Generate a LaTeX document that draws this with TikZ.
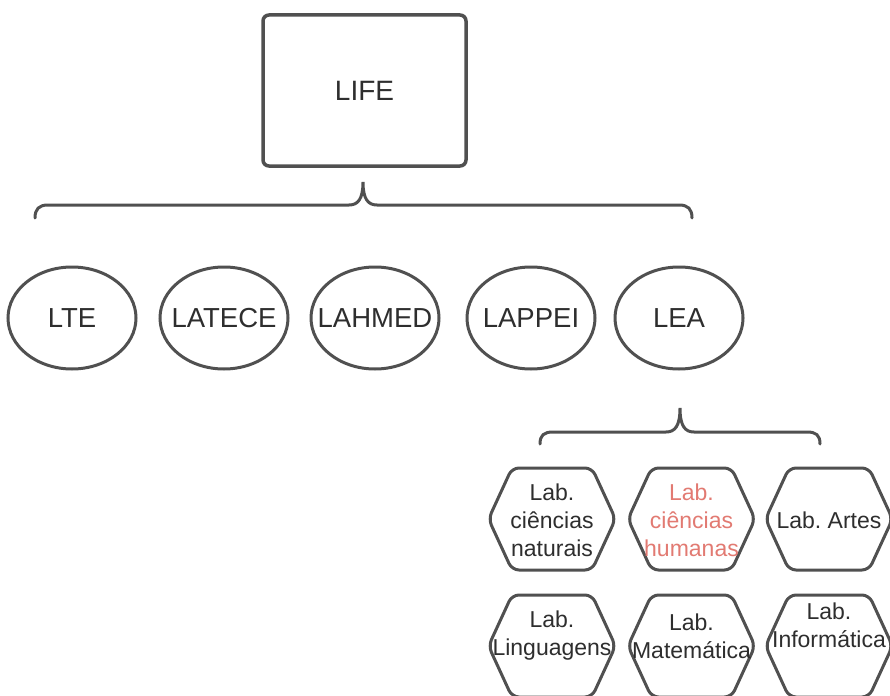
\documentclass[tikz,border=0pt]{standalone}
\usepackage{fontspec}
\setmainfont{Liberation Sans}
\usetikzlibrary{shapes.geometric}
\definecolor{ink}{HTML}{2E2E2E}
\definecolor{edge}{HTML}{505050}
\definecolor{salmon}{HTML}{E27A72}
\begin{document}
\begin{tikzpicture}[x=1pt,y=-1pt,
  topbox/.style={draw=edge,line width=3.5pt,rounded corners=6pt,minimum width=203pt,minimum height=151pt,inner sep=0pt,text=ink,font=\fontsize{28}{30}\selectfont},
  ovalbox/.style={draw=edge,line width=3pt,shape=ellipse,minimum width=128pt,minimum height=102pt,inner sep=0pt},
  ovaltxt/.style={text=ink,font=\fontsize{27.5}{30}\selectfont,inner sep=0pt},
  hextxt/.style={text=ink,font=\fontsize{23}{28}\selectfont,align=center,inner sep=0pt},
  hexline/.style={draw=edge,line width=3pt,rounded corners=7pt},
  bracepath/.style={draw=edge,line width=3pt,line cap=round}]
\useasboundingbox (0,0) rectangle (890,695);
\fill[white] (0,0) rectangle (890,695);

% top box
\node[topbox] (life) at (364.5,90.5) {LIFE};

% first brace
\coordinate (b1l) at (35,218);
\coordinate (b1t) at (363,182);
\coordinate (b1r) at (692,218);
\draw[bracepath] (b1l) .. controls (35,209) and (39,205) .. (48,205) -- (349,205)
  .. controls (358,205) and (363,199) .. (b1t)
  .. controls (363,199) and (368,205) .. (377,205) -- (679,205)
  .. controls (688,205) and (692,209) .. (b1r);

% ellipses
\node[ovalbox] (lte)    at (72,318)  {};
\node[ovalbox] (latece) at (224,318) {};
\node[ovalbox] (lahmed) at (375,318) {};
\node[ovalbox] (lappei) at (531,318) {};
\node[ovalbox] (lea)    at (679,318) {};
\node[ovaltxt] (ltet)    at (lte)    {LTE};
\node[ovaltxt] (latecet) at (latece) {LATECE};
\node[ovaltxt] (lahmedt) at (lahmed) {LAHMED};
\node[ovaltxt] (lappeit) at (lappei) {LAPPEI};
\node[ovaltxt] (leat)    at (lea)    {LEA};

% second brace
\coordinate (b2l) at (540,444);
\coordinate (b2t) at (680,408);
\coordinate (b2r) at (820,444);
\draw[bracepath] (b2l) .. controls (540,435) and (544,432) .. (553,432) -- (666,432)
  .. controls (675,432) and (680,426) .. (b2t)
  .. controls (680,426) and (685,432) .. (694,432) -- (807,432)
  .. controls (816,432) and (820,435) .. (b2r);

% hexagon centres
\coordinate (c1) at (552,519);
\coordinate (c2) at (691.5,519);
\coordinate (c3) at (829,519);
\coordinate (c4) at (552,646);
\coordinate (c5) at (691.5,646);
\coordinate (c6) at (829,646);
\foreach \n in {c1,c2,c3,c4,c5,c6}
  \draw[hexline] ([shift={(-63.5,0)}]\n) -- ([shift={(-40,-51)}]\n) -- ([shift={(40,-51)}]\n)
    -- ([shift={(63.5,0)}]\n) -- ([shift={(40,51)}]\n) -- ([shift={(-40,51)}]\n) -- cycle;

% hexagon texts
\node[hextxt] (h1) at (552,520) {Lab.\\ciências\\naturais};
\node[hextxt,text=salmon] (h2) at (691.5,520) {Lab.\\ciências\\humanas};
\node[hextxt] (h3) at (829,520) {Lab.\ Artes};
\node[hextxt] (h4) at (552,636) {Lab.\\Linguagens};
\node[hextxt] (h5) at (691.5,636) {Lab.\\Matemática};
\node[hextxt] (h6) at (829,625) {Lab.\\Informática};
\end{tikzpicture}
\end{document}
